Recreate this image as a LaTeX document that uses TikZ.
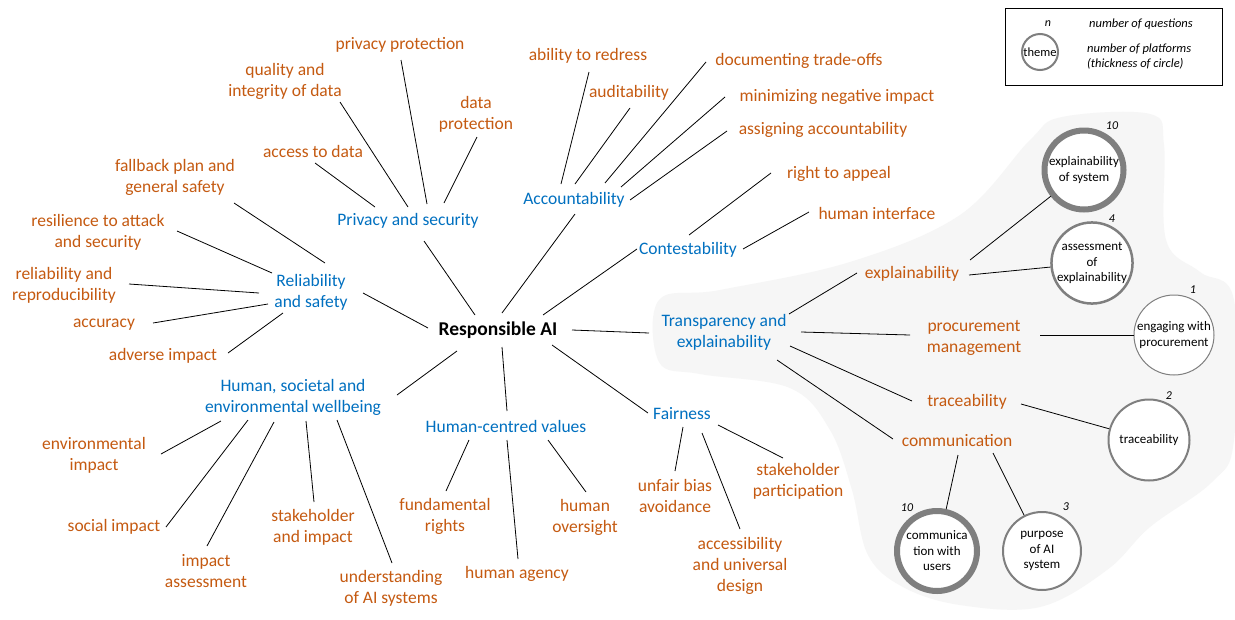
\documentclass[tikz,border=0pt]{standalone}
\usepackage{fontspec}
\setmainfont{Carlito}
\usetikzlibrary{calc}
\definecolor{orng}{HTML}{C55A11}
\definecolor{blu}{HTML}{0070C0}
\definecolor{cgray}{HTML}{7F7F7F}
\definecolor{blobfill}{HTML}{F6F6F6}
\tikzset{
  leaf/.style={text=orng, font=\fontsize{17.5}{21}\selectfont, align=center, inner sep=0pt},
  cat/.style={text=blu, font=\fontsize{17.5}{21}\selectfont, align=center, inner sep=0pt},
  hub/.style={font=\bfseries\fontsize{19.5}{23}\selectfont, inner sep=0pt},
  theme/.style={circle, draw=cgray, fill=white, inner sep=0pt, align=center,
    font=\fontsize{13}{15.5}\selectfont},
  num/.style={font=\itshape\fontsize{12}{14}\selectfont, inner sep=0pt},
  legtext/.style={font=\itshape\fontsize{12.5}{15}\selectfont, inner sep=0pt},
  link/.style={draw=black, line width=0.8pt},
}
\begin{document}
\begin{tikzpicture}[x=1pt,y=-1pt]
\useasboundingbox (0,0) rectangle (1235,619);
\fill[white] (0,0) rectangle (1235,619);
% background blob
\fill[blobfill] plot[smooth cycle, tension=0.6] coordinates {
  (659,300) (720,290) (850,262) (960,215) (1030,140) (1062,117) (1150,114)
  (1164,145) (1166,240) (1200,272) (1234,300) (1234,440) (1212,482)
  (1150,527) (1107,570) (1040,607) (960,605) (903,587) (868,555) (852,490)
  (830,430) (790,388) (700,374) (659,362)};

% hub and categories
\node[hub] (RAI) at (498,330) {Responsible AI};
\node[cat] (PS)  at (408,221) {Privacy and security};
\node[cat] (ACC) at (574,200) {Accountability};
\node[cat] (CON) at (688,250) {Contestability};
\node[cat] (RS)  at (311,292) {Reliability\\and safety};
\node[cat] (TE)  at (724,332) {Transparency and\\explainability};
\node[cat] (HW)  at (293,397) {Human, societal and\\environmental wellbeing};
\node[cat] (HCV) at (506,426) {Human-centred values};
\node[cat] (FA)  at (682,414) {Fairness};

% leaves
\node[leaf] (pp)  at (400,45)  {privacy protection};
\node[leaf] (qi)  at (285,81)  {quality and\\integrity of data};
\node[leaf] (dp)  at (476,114) {data\\protection};
\node[leaf] (ad)  at (313,151) {access to data};
\node[leaf] (fb)  at (175,177) {fallback plan and\\general safety};
\node[leaf] (ra)  at (98,232)  {resilience to attack\\and security};
\node[leaf] (rr)  at (64,285)  {reliability and\\reproducibility};
\node[leaf] (acy) at (104,325) {accuracy};
\node[leaf] (ai)  at (163,356) {adverse impact};
\node[leaf] (ei)  at (94,455)  {environmental\\impact};
\node[leaf] (si)  at (114,527) {social impact};
\node[leaf] (ia)  at (206,571) {impact\\assessment};
\node[leaf] (sti) at (313,527) {stakeholder\\and impact};
\node[leaf] (ua)  at (391,588) {understanding\\of AI systems};
\node[leaf] (fr)  at (445,516) {fundamental\\rights};
\node[leaf] (ha)  at (517,574) {human agency};
\node[leaf] (ho)  at (585,517) {human\\oversight};
\node[leaf] (ub)  at (675,496) {unfair bias\\avoidance};
\node[leaf] (aud) at (740,566) {accessibility\\and universal\\design};
\node[leaf] (spa) at (798,481) {stakeholder\\participation};
\node[leaf] (atr) at (588,56)  {ability to redress};
\node[leaf] (adt) at (629,93)  {auditability};
\node[leaf] (dto) at (799,61)  {documenting trade-offs};
\node[leaf] (mni) at (837,97)  {minimizing negative impact};
\node[leaf] (asa) at (823,130) {assigning accountability};
\node[leaf] (rta) at (839,174) {right to appeal};
\node[leaf] (hi)  at (877,213) {human interface};
\node[leaf] (ex)  at (912,274) {explainability};
\node[leaf] (pm)  at (974,338) {procurement\\management};
\node[leaf] (tr)  at (967,402) {traceability};
\node[leaf] (cm)  at (957,441) {communication};

% theme circles
\node[theme, line width=6pt, minimum size=79pt] (c1) at (1084,170) {explainability\\of system};
\node[theme, line width=2.5pt, minimum size=81pt] (c2) at (1092,263) {assessment\\of\\explainability};
\node[theme, line width=1pt, minimum size=80pt] (c3) at (1174,335) {engaging with\\procurement};
\node[theme, line width=2pt, minimum size=81pt] (c4) at (1149,440) {traceability};
\node[theme, line width=6pt, minimum size=80pt] (c5) at (937,551) {communica\\tion with\\users};
\node[theme, line width=2pt, minimum size=78pt] (c6) at (1042,551) {purpose\\of AI\\system};
\node[num] (n1) at (1112,126) {10};
\node[num] (n2) at (1112,219) {4};
\node[num] (n3) at (1193,290) {1};
\node[num] (n4) at (1169,396) {2};
\node[num] (n5) at (907,508) {10};
\node[num] (n6) at (1066,507) {3};

% connectors
\draw[link] ($(ad)+(2,12)$) -- ($(PS)+(-33,-14)$);
\draw[link] ($(qi)+(55,21)$) -- ($(PS)+(0,-14)$);
\draw[link] ($(pp)+(1,15)$) -- ($(PS)+(19,-17)$);
\draw[link] ($(dp)+(1,23)$) -- ($(PS)+(36,-18)$);
\draw[link] ($(PS)+(16,20)$) -- ($(RAI)+(-23,-15)$);
\draw[link] ($(fb)+(59,26)$) -- ($(RS)+(14,-29)$);
\draw[link] ($(ra)+(79,-1)$) -- ($(RS)+(-39,-19)$);
\draw[link] ($(rr)+(65,-1)$) -- ($(RS)+(-52,1)$);
\draw[link] ($(acy)+(49,-2)$) -- ($(RS)+(-43,12)$);
\draw[link] ($(ai)+(65,-3)$) -- ($(RS)+(-28,21)$);
\draw[link] ($(RS)+(52,1)$) -- ($(RAI)+(-70,-2)$);
\draw[link] ($(HW)+(104,-2)$) -- ($(RAI)+(-41,21)$);
\draw[link] ($(ei)+(67,-1)$) -- ($(HW)+(-72,24)$);
\draw[link] ($(si)+(52,0)$) -- ($(HW)+(-45,23)$);
\draw[link] ($(ia)+(1,-25)$) -- ($(HW)+(-19,25)$);
\draw[link] ($(sti)+(1,-25)$) -- ($(HW)+(13,24)$);
\draw[link] ($(ua)+(1,-25)$) -- ($(HW)+(44,23)$);
\draw[link] ($(RAI)+(4,17)$) -- ($(HCV)+(1,-15)$);
\draw[link] ($(RAI)+(54,15)$) -- ($(FA)+(-34,-1)$);
\draw[link] ($(RAI)+(74,0)$) -- ($(TE)+(-75,1)$);
\draw[link] ($(fr)+(1,-25)$) -- ($(HCV)+(-37,14)$);
\draw[link] ($(ha)+(1,-15)$) -- ($(HCV)+(1,14)$);
\draw[link] ($(ho)+(1,-25)$) -- ($(HCV)+(42,14)$);
\draw[link] ($(ub)+(0,-25)$) -- ($(FA)+(1,13)$);
\draw[link] ($(aud)+(0,-37)$) -- ($(FA)+(20,19)$);
\draw[link] ($(spa)+(-15,-23)$) -- ($(FA)+(36,11)$);
\draw[link] ($(atr)+(1,16)$) -- ($(ACC)+(-13,-16)$);
\draw[link] ($(adt)+(1,15)$) -- ($(ACC)+(1,-16)$);
\draw[link] ($(dto)+(-93,1)$) -- ($(ACC)+(31,-17)$);
\draw[link] ($(mni)+(-112,0)$) -- ($(ACC)+(47,-13)$);
\draw[link] ($(asa)+(-96,1)$) -- ($(ACC)+(56,0)$);
\draw[link] ($(ACC)+(1,14)$) -- ($(RAI)+(4,-17)$);
\draw[link] ($(CON)+(-51,-1)$) -- ($(RAI)+(45,-15)$);
\draw[link] ($(rta)+(-68,-1)$) -- ($(CON)+(1,-15)$);
\draw[link] ($(hi)+(-68,-1)$) -- ($(CON)+(55,-1)$);
\draw[link] ($(TE)+(65,-18)$) -- ($(ex)+(-55,-1)$);
\draw[link] ($(TE)+(77,0)$) -- ($(pm)+(-64,-3)$);
\draw[link] ($(TE)+(66,14)$) -- ($(tr)+(-55,-1)$);
\draw[link] ($(TE)+(53,28)$) -- ($(cm)+(-64,-2)$);
\draw[link] ($(ex)+(58,-14)$) -- (c1);
\draw[link] ($(ex)+(57,1)$) -- (c2);
\draw[link] ($(pm)+(66,-3)$) -- (c3);
\draw[link] ($(tr)+(54,2)$) -- (c4);
\draw[link] ($(cm)+(1,14)$) -- (c5);
\draw[link] ($(cm)+(36,12)$) -- (c6);

% legend
\node[draw=black, line width=0.8pt, minimum width=217pt, minimum height=77pt, inner sep=0pt] (leg) at (1113.5,46.5) {};
\node[theme, line width=2pt, minimum size=36pt, font=\fontsize{12.5}{15}\selectfont] (lc) at (1040,52) {theme};
\node[num] (ln) at (1048,24) {n};
\node[legtext] (lq) at (1141,24) {number of questions};
\node[legtext, anchor=west, align=left] (lp) at (1087,57) {number of platforms\\(thickness of circle)};
\end{tikzpicture}
\end{document}
